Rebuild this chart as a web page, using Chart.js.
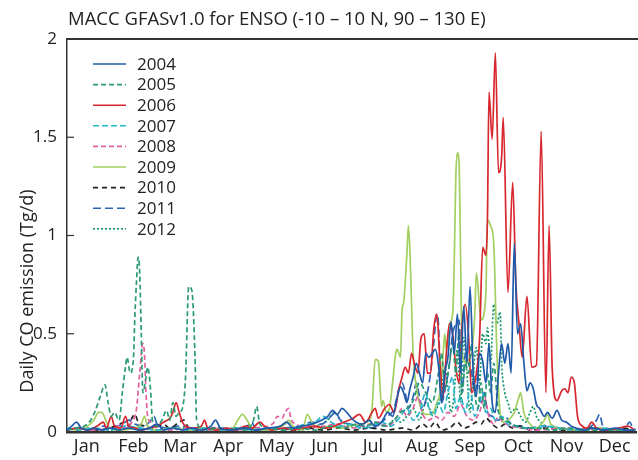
<!DOCTYPE html>
<html>
<head>
<meta charset="utf-8">
<script src="https://cdn.jsdelivr.net/npm/chart.js@4"></script>
<style>
  html, body { margin: 0; padding: 0; background: #fff; }
  #wrap { width: 638px; height: 460px; position: relative; }
</style>
</head>
<body>
<div id="wrap"><canvas id="chart"></canvas></div>
<script>
// daily CO emission, ENSO region, one line per year
// each entry is [day of year, Tg/d]

const titleText = 'MACC GFASv1.0 for ENSO (-10 \u2013 10 N, 90 \u2013 130 E)';
const yTitle = 'Daily CO emission (Tg/d)';
const monthLabels = ['Jan', 'Feb', 'Mar', 'Apr', 'May', 'Jun', 'Jul', 'Aug', 'Sep', 'Oct', 'Nov', 'Dec'];
const monthCenters = [15.5, 45, 74.5, 105, 135.5, 166, 196.5, 227.5, 258, 288.5, 319, 349.5];
const yTicks = [0, 0.5, 1, 1.5, 2];

const years = ['2004', '2005', '2006', '2007', '2008', '2009', '2010', '2011', '2012'];

const co2004 = [[3,0.01],[6,0.03],[9,0.05],[12,0.02],[16,0.01],[20,0.02],[25,0.01],[30,0.02],[36,0.01],[42,0.02],[48,0.01],[55,0.02],[60,0.04],[64,0.01],[70,0.02],[76,0.01],[82,0.02],[88,0.01],[94,0.03],[97,0.06],[100,0.02],[106,0.01],[115,0.02],[122,0.01],[130,0.02],[138,0.03],[142,0.05],[146,0.02],[152,0.03],[158,0.04],[164,0.06],[168,0.08],[171,0.11],[174,0.09],[177,0.12],[180,0.1],[183,0.07],[186,0.05],[190,0.04],[194,0.06],[198,0.03],[202,0.05],[206,0.1],[209,0.08],[212,0.18],[214,0.23],[216,0.2],[218,0.15],[220,0.22],[222,0.28],[224,0.35],[226,0.3],[228,0.25],[230,0.4],[232,0.38],[234,0.4],[236,0.42],[238,0.34],[240,0.15],[242,0.3],[244,0.38],[246,0.56],[248,0.4],[250,0.6],[252,0.3],[254,0.64],[256,0.35],[258,0.74],[260,0.3],[262,0.18],[264,0.4],[266,0.36],[268,0.25],[270,0.45],[272,0.15],[274,0.1],[276,0.3],[278,0.45],[280,0.35],[282,0.45],[284,0.3],[286,0.96],[288,0.5],[290,0.55],[292,0.36],[294,0.21],[296,0.25],[298,0.22],[300,0.14],[302,0.12],[305,0.08],[307,0.1],[310,0.07],[313,0.11],[316,0.06],[319,0.05],[322,0.03],[325,0.02],[330,0.01],[336,0.02],[342,0.01],[350,0.02],[356,0.01],[362,0.01]];

const co2005 = [[3,0.01],[8,0.02],[14,0.03],[18,0.06],[21,0.11],[24,0.18],[27,0.24],[29,0.15],[31,0.08],[33,0.1],[36,0.06],[38,0.2],[40,0.33],[41,0.38],[43,0.3],[45,0.37],[46,0.6],[47,0.77],[48,0.89],[49,0.81],[50,0.5],[51,0.2],[53,0.28],[54,0.33],[56,0.2],[57,0.06],[60,0.03],[63,0.06],[66,0.11],[68,0.06],[70,0.15],[72,0.08],[74,0.1],[76,0.12],[78,0.28],[80,0.74],[82,0.72],[84,0.38],[85,0.06],[88,0.02],[92,0.01],[98,0.02],[104,0.01],[110,0.02],[116,0.01],[121,0.06],[123,0.13],[125,0.04],[130,0.02],[140,0.01],[150,0.02],[160,0.01],[170,0.03],[178,0.02],[186,0.04],[192,0.03],[198,0.05],[204,0.03],[210,0.06],[214,0.1],[218,0.12],[222,0.16],[226,0.25],[230,0.2],[234,0.15],[238,0.3],[240,0.4],[242,0.22],[245,0.35],[247,0.45],[249,0.3],[251,0.5],[253,0.2],[255,0.35],[257,0.3],[259,0.45],[261,0.2],[263,0.12],[265,0.25],[267,0.12],[269,0.3],[271,0.2],[273,0.35],[276,0.1],[280,0.06],[285,0.04],[290,0.02],[300,0.02],[310,0.01],[320,0.02],[330,0.01],[340,0.01],[362,0.01]];

const co2006 = [[3,0.01],[10,0.02],[16,0.01],[22,0.03],[26,0.05],[28,0.02],[31,0.08],[33,0.03],[37,0.02],[40,0.08],[42,0.03],[46,0.02],[50,0.01],[55,0.02],[60,0.03],[64,0.05],[68,0.07],[70,0.1],[72,0.15],[74,0.1],[76,0.05],[78,0.03],[83,0.02],[88,0.03],[90,0.06],[92,0.02],[98,0.01],[104,0.02],[110,0.01],[116,0.03],[120,0.02],[125,0.05],[128,0.03],[132,0.01],[140,0.02],[146,0.01],[152,0.02],[160,0.03],[166,0.02],[172,0.03],[178,0.05],[184,0.07],[188,0.09],[192,0.05],[196,0.1],[198,0.12],[200,0.07],[204,0.12],[207,0.14],[210,0.1],[213,0.22],[215,0.28],[217,0.33],[219,0.3],[221,0.4],[223,0.34],[225,0.3],[227,0.48],[229,0.5],[231,0.3],[233,0.3],[235,0.52],[237,0.6],[239,0.35],[241,0.18],[243,0.4],[245,0.55],[247,0.5],[249,0.33],[251,0.25],[253,0.55],[255,0.65],[257,0.5],[259,0.2],[262,0.3],[264,0.47],[266,0.94],[268,0.9],[269,1.08],[270,1.73],[272,1.49],[274,1.93],[276,1.32],[278,1.4],[279,1.6],[282,0.71],[285,1.27],[287,0.75],[289,0.55],[291,0.38],[294,0.69],[297,0.33],[300,0.34],[303,1.53],[306,0.2],[308,1.05],[310,0.32],[313,0.16],[316,0.21],[318,0.22],[320,0.2],[322,0.28],[324,0.25],[326,0.08],[329,0.03],[332,0.02],[335,0.05],[338,0.02],[345,0.01],[352,0.02],[358,0.03],[362,0.01]];

const co2007 = [[3,0.02],[10,0.01],[20,0.02],[30,0.01],[40,0.03],[50,0.02],[60,0.01],[70,0.02],[80,0.01],[90,0.02],[100,0.01],[110,0.02],[120,0.01],[130,0.02],[140,0.01],[150,0.03],[160,0.05],[165,0.08],[170,0.05],[176,0.03],[182,0.04],[190,0.02],[196,0.03],[202,0.05],[208,0.03],[214,0.08],[218,0.12],[222,0.06],[226,0.1],[230,0.2],[232,0.12],[235,0.08],[238,0.15],[241,0.1],[244,0.2],[247,0.28],[249,0.12],[252,0.18],[255,0.1],[258,0.22],[261,0.08],[264,0.15],[266,0.2],[268,0.1],[271,0.12],[274,0.06],[278,0.08],[282,0.04],[288,0.03],[295,0.02],[305,0.03],[315,0.02],[325,0.01],[340,0.02],[355,0.01],[362,0.01]];

const co2008 = [[3,0.01],[10,0.02],[20,0.01],[30,0.02],[36,0.03],[40,0.02],[44,0.05],[47,0.12],[49,0.3],[51,0.45],[52,0.4],[53,0.2],[54,0.08],[56,0.05],[60,0.02],[68,0.01],[80,0.02],[90,0.01],[100,0.02],[110,0.01],[120,0.02],[130,0.03],[134,0.05],[136,0.08],[139,0.07],[141,0.1],[143,0.12],[145,0.06],[148,0.04],[155,0.02],[165,0.03],[175,0.04],[182,0.02],[190,0.03],[200,0.05],[206,0.03],[212,0.08],[215,0.12],[218,0.08],[222,0.12],[225,0.18],[228,0.09],[232,0.06],[236,0.08],[240,0.06],[244,0.1],[248,0.08],[252,0.14],[256,0.08],[260,0.06],[264,0.1],[267,0.18],[270,0.08],[273,0.04],[276,0.08],[279,0.05],[284,0.03],[290,0.02],[300,0.01],[320,0.02],[340,0.01],[362,0.01]];

const co2009 = [[3,0.02],[10,0.01],[16,0.03],[20,0.06],[23,0.1],[25,0.1],[28,0.05],[30,0.02],[36,0.01],[45,0.02],[50,0.04],[52,0.08],[54,0.03],[60,0.01],[70,0.02],[80,0.01],[90,0.02],[100,0.01],[108,0.02],[111,0.06],[114,0.09],[117,0.06],[120,0.02],[128,0.01],[136,0.02],[141,0.04],[143,0.06],[146,0.03],[152,0.01],[155,0.09],[158,0.05],[162,0.02],[170,0.03],[176,0.02],[182,0.03],[188,0.04],[193,0.05],[196,0.12],[198,0.37],[200,0.36],[202,0.13],[203,0.16],[205,0.1],[207,0.12],[209,0.25],[211,0.4],[212,0.42],[214,0.38],[215,0.62],[216,0.66],[218,0.9],[219,1.05],[220,0.91],[222,0.4],[224,0.23],[227,0.12],[230,0.09],[234,0.09],[237,0.15],[239,0.2],[241,0.4],[242,0.5],[243,0.42],[245,0.55],[247,0.6],[248,0.86],[249,1.3],[250,1.42],[251,1.38],[252,0.9],[253,0.4],[256,0.35],[258,0.38],[259,0.4],[261,0.6],[262,0.81],[265,0.57],[268,0.7],[269,1.08],[271,1.05],[273,0.96],[275,0.4],[277,0.1],[279,0.05],[282,0.06],[286,0.1],[289,0.18],[290,0.2],[292,0.1],[295,0.05],[300,0.02],[305,0.06],[307,0.09],[309,0.04],[315,0.02],[325,0.01],[340,0.02],[350,0.01],[362,0.01]];

const co2010 = [[3,0.01],[10,0.02],[20,0.01],[30,0.02],[36,0.04],[40,0.05],[42,0.03],[44,0.07],[46,0.09],[48,0.05],[52,0.03],[58,0.02],[64,0.04],[68,0.02],[74,0.05],[77,0.06],[80,0.02],[86,0.01],[95,0.02],[105,0.01],[115,0.02],[125,0.01],[135,0.02],[145,0.01],[155,0.02],[165,0.01],[175,0.02],[185,0.01],[195,0.02],[205,0.01],[215,0.02],[222,0.01],[228,0.04],[232,0.02],[236,0.05],[240,0.01],[245,0.02],[250,0.05],[254,0.02],[258,0.03],[262,0.05],[265,0.04],[268,0.07],[272,0.04],[276,0.02],[280,0.04],[285,0.02],[290,0.03],[296,0.01],[305,0.02],[315,0.01],[325,0.01],[335,0.02],[345,0.01],[355,0.02],[362,0.01]];

const co2011 = [[3,0.01],[10,0.02],[20,0.01],[26,0.03],[30,0.02],[38,0.04],[42,0.06],[46,0.04],[52,0.03],[56,0.06],[58,0.08],[60,0.04],[66,0.02],[75,0.03],[82,0.02],[90,0.01],[100,0.02],[110,0.01],[117,0.03],[120,0.05],[122,0.02],[130,0.01],[140,0.02],[150,0.03],[158,0.05],[164,0.04],[170,0.08],[173,0.1],[176,0.06],[182,0.04],[190,0.03],[196,0.02],[202,0.05],[206,0.08],[210,0.12],[213,0.22],[215,0.25],[217,0.2],[219,0.12],[222,0.18],[224,0.25],[226,0.18],[228,0.12],[231,0.2],[233,0.3],[235,0.45],[237,0.6],[238,0.55],[240,0.15],[243,0.25],[245,0.35],[247,0.5],[249,0.55],[251,0.57],[253,0.2],[255,0.4],[257,0.35],[259,0.3],[261,0.2],[263,0.28],[265,0.15],[267,0.2],[269,0.1],[272,0.08],[276,0.06],[280,0.08],[284,0.04],[290,0.03],[296,0.02],[305,0.03],[315,0.02],[325,0.01],[333,0.02],[338,0.06],[340,0.09],[342,0.03],[350,0.01],[356,0.02],[359,0.05],[361,0.02],[363,0.01]];

const co2012 = [[3,0.01],[15,0.02],[30,0.01],[45,0.02],[60,0.01],[75,0.02],[90,0.01],[105,0.02],[120,0.01],[135,0.02],[150,0.01],[160,0.03],[168,0.06],[172,0.1],[176,0.06],[182,0.03],[190,0.02],[198,0.04],[205,0.03],[210,0.06],[214,0.05],[218,0.08],[222,0.12],[226,0.06],[230,0.15],[234,0.1],[237,0.12],[240,0.2],[242,0.33],[244,0.22],[246,0.1],[248,0.2],[250,0.42],[252,0.15],[254,0.48],[256,0.3],[258,0.1],[260,0.3],[262,0.43],[264,0.25],[266,0.5],[268,0.45],[269,0.53],[271,0.35],[273,0.65],[275,0.55],[277,0.61],[278,0.35],[280,0.2],[282,0.15],[284,0.1],[287,0.12],[290,0.08],[293,0.05],[296,0.1],[298,0.13],[300,0.08],[304,0.04],[310,0.02],[320,0.01],[335,0.02],[350,0.01],[362,0.01]];

const seriesValues = [co2004, co2005, co2006, co2007, co2008, co2009, co2010, co2011, co2012];
const lineColors = ['#1f5aaa', '#2a9a72', '#d8282f', '#27b6cb', '#e2609f', '#a2cf60', '#222222', '#2d66b3', '#17976a'];
const lineDashes = [[], [5, 3], [], [6, 3], [5, 3], [], [5, 4], [8, 4], [2, 2]];

const FONT = '"Open Sans", "DejaVu Sans", sans-serif';

// title, y label, inward ticks, top frame line and the legend
const decorations = {
  id: 'decorations',
  afterDraw(chart) {
    const ctx = chart.ctx;
    const area = chart.chartArea;
    const yScale = chart.scales.y;
    ctx.save();

    // top frame
    ctx.strokeStyle = '#333';
    ctx.lineWidth = 2;
    ctx.beginPath();
    ctx.moveTo(area.left, area.top);
    ctx.lineTo(chart.width, area.top);
    ctx.stroke();

    // small ticks pointing into the plot
    ctx.lineWidth = 1.2;
    [0.5, 1, 1.5].forEach(v => {
      const py = yScale.getPixelForValue(v);
      ctx.beginPath();
      ctx.moveTo(area.left, py);
      ctx.lineTo(area.left + 7, py);
      ctx.stroke();
    });

    ctx.fillStyle = '#222';
    ctx.font = '18.5px ' + FONT;
    ctx.textBaseline = 'middle';
    ctx.textAlign = 'left';
    ctx.fillText(titleText, 68, 20);

    // rotated axis title
    ctx.save();
    ctx.translate(28, 291);
    ctx.rotate(-Math.PI / 2);
    ctx.textAlign = 'center';
    ctx.font = '18px ' + FONT;
    ctx.fillText(yTitle, 0, 0);
    ctx.restore();

    // legend
    ctx.font = '17px ' + FONT;
    chart.data.datasets.forEach((ds, i) => {
      const ly = 64 + i * 20.6;
      ctx.strokeStyle = ds.borderColor;
      ctx.lineWidth = 1.6;
      ctx.setLineDash(ds.borderDash);
      ctx.beginPath();
      ctx.moveTo(93, ly);
      ctx.lineTo(126, ly);
      ctx.stroke();
      ctx.setLineDash([]);
      ctx.fillStyle = '#222';
      ctx.fillText(ds.label, 137, ly + 1);
    });

    ctx.restore();
  }
};

new Chart(document.getElementById('chart'), {
  type: 'line',
  data: {
    datasets: years.map((yr, i) => ({
      label: yr,
      data: seriesValues[i].map(p => ({ x: p[0], y: p[1] })),
      borderColor: lineColors[i],
      borderDash: lineDashes[i],
      borderWidth: 1.7,
      pointRadius: 0,
      fill: false,
      cubicInterpolationMode: 'monotone'
    }))
  },
  options: {
    responsive: true,
    maintainAspectRatio: false,
    animation: false,
    layout: { padding: { top: 39, right: 2, left: 0, bottom: 0 } },
    plugins: {
      legend: { display: false },
      tooltip: { enabled: false }
    },
    scales: {
      x: {
        type: 'linear',
        min: 3,
        max: 363,
        afterBuildTicks: scale => { scale.ticks = monthCenters.map(v => ({ value: v })); },
        afterFit: scale => { scale.height = 28; },
        grid: { display: false, drawTicks: false },
        border: { display: true, color: '#333', width: 2.5 },
        ticks: {
          autoSkip: false,
          maxRotation: 0,
          padding: 4,
          color: '#222',
          font: { family: FONT, size: 18 },
          callback: (v, i) => monthLabels[i]
        }
      },
      y: {
        min: 0,
        max: 2,
        afterBuildTicks: scale => { scale.ticks = yTicks.map(v => ({ value: v })); },
        afterFit: scale => { scale.width = 67; },
        grid: { display: false, drawTicks: false },
        border: { display: true, color: '#333', width: 1.5 },
        ticks: {
          padding: 10,
          color: '#222',
          font: { family: FONT, size: 17 },
          callback: v => String(v)
        }
      }
    }
  },
  plugins: [decorations]
});
</script>
</body>
</html>
